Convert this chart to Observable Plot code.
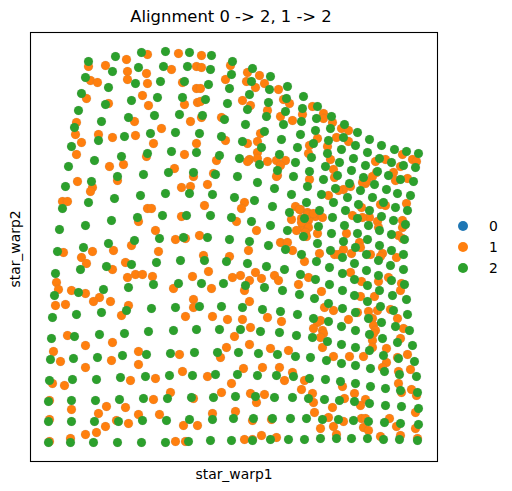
<!DOCTYPE html>
<html>
<head>
<meta charset="utf-8">
<script src="https://cdn.jsdelivr.net/npm/d3@7"></script>
<script src="https://cdn.jsdelivr.net/npm/@observablehq/plot@0.6"></script>
<style>
html,body{margin:0;padding:0;background:#fff;font-family:"DejaVu Sans",sans-serif;}
#wrap{position:relative;width:512px;height:491px;overflow:hidden;}
#wrap svg{display:block;}
#legend{position:absolute;left:458px;top:215px;}
.row{display:flex;align-items:center;height:21px;font-size:13.9px;color:#000;}
.swatch{width:10px;height:10px;border-radius:50%;margin-right:21px;}
</style>
</head>
<body>
<div id="wrap"><div id="legend"></div></div>
<script>
const categories = ["0", "1", "2"];
const palette = ["#1f77b4", "#ff7f0e", "#2ca02c"];
const titleText = "Alignment 0 -> 2, 1 -> 2";
const xLabel = "star_warp1";
const yLabel = "star_warp2";

const points0 = [];

const points1 = [[58,395],[75,396],[96,402],[117,407],[141,392],[97,390],[116,388],[60,381],[67,379],[97,382],[117,378],[56,363],[112,366],[78,358],[118,356],[46,339],[104,340],[131,333],[45,327],[68,327],[82,324],[105,326],[51,319],[123,318],[46,307],[116,305],[79,295],[93,297],
[148,408],[171,406],[200,396],[166,395],[171,394],[217,389],[229,386],[195,382],[216,380],[234,378],[152,379],[225,374],[166,373],[170,373],[248,372],[212,361],[154,357],[167,359],[170,360],[253,362],[259,358],[220,356],[237,351],[250,345],[262,341],[160,340],[171,344],[191,344],[230,328],[195,321],[166,318],[227,320],[217,318],[154,307],[227,309],[186,301],[219,302],[217,300],[237,300],[246,301],[255,301],[227,303],[250,296],[144,293],[183,288],[163,285],[247,286],[246,285],
[282,355],[293,348],[293,343],[272,347],[302,339],[311,333],[318,331],[287,323],[306,324],[318,320],[297,315],[279,316],[278,308],[300,302],[372,307],[345,300],[355,302],[382,302],[386,300],[303,292],[279,282],[346,289],[342,285],[304,284],[370,295],[363,289],[365,281],[377,283],[335,278],[313,272],[320,275],[298,266],[350,257],[355,256],[376,258],[331,254],[322,246],[339,244],[347,240],[270,252],[277,249],[285,245],[292,244],[278,241],[272,234],[278,234],[372,241],[372,234],[287,228],[316,228],[348,234],[332,244],[308,271],[332,279],[336,280],[277,247],[283,248],
[47,280],[87,281],[62,274],[60,270],[32,260],[37,260],[117,253],[121,253],[108,240],[125,231],[101,216],[83,211],[33,209],[62,210],[128,210],[51,204],[56,198],[95,199],[82,192],[97,184],[105,187],[112,187],[122,185],[26,179],[28,172],[41,171],[55,168],[69,164],[63,160],[80,160],[98,156],[25,156],[35,157],[91,146],
[151,274],[160,275],[177,277],[214,259],[174,256],[211,253],[265,255],[269,252],[151,245],[206,240],[261,242],[271,243],[226,231],[266,231],[275,229],[145,222],[155,223],[169,226],[250,219],[257,219],[262,211],[218,211],[173,206],[199,205],[274,200],[178,190],[162,185],[225,189],[244,186],[248,181],[202,184],[210,186],[219,181],[231,183],[278,184],[268,177],[143,173],[181,173],[214,171],[163,162],[163,154],[219,160],[155,145],[182,145],[197,142],[212,142],[237,144],[251,140],[271,239],
[276,225],[368,226],[372,223],[329,219],[330,214],[289,208],[313,212],[321,208],[304,207],[308,207],[352,208],[350,205],[340,207],[366,204],[320,189],[348,180],[331,180],[358,184],[371,178],[291,170],[370,171],[330,165],[344,165],[294,154],[303,151],[327,149],[338,150],[347,151],[360,152],[318,142],[367,143],[290,141],[287,139],[342,143],[343,136],[283,133],[292,131],[293,128],[290,124],[345,131],[373,133],[342,121],[343,128],[292,114],[370,123],[356,113],
[37,126],[55,116],[82,119],[23,110],[30,100],[55,94],[81,101],[108,110],[108,97],[22,78],[34,76],[100,81],[125,83],[19,61],[41,52],[123,62],[140,69],[76,55],[95,54],[68,48],[19,42],[86,41],[98,38],[108,47],[129,47],[75,35],[66,29],[55,27],[40,23],[19,20],
[220,134],[204,125],[219,117],[196,114],[190,104],[240,113],[258,111],[149,107],[213,93],[232,94],[249,94],[152,90],[177,85],[201,78],[262,89],[254,81],[274,81],[271,72],[191,69],[220,68],[234,67],[226,59],[163,63],[182,48],[205,50],[153,36],[167,36],[222,41],[241,42],[145,20],[155,20],[214,22],[222,22],[231,26],[246,24],
[303,105],[319,105],[333,105],[342,114],[356,99],[352,94],[367,104],[377,107],[380,92],[368,90],[312,75],[368,78],[282,68],[324,68],[381,72],[371,69],[386,66],[283,59],[314,63],[335,62],[330,56],[302,54],[284,49],[385,49],[298,44],[313,40],[359,43],[331,43],[335,43],[290,33],[303,35],[333,34],[338,31],[366,35],[385,33],[306,27],[350,25],[370,26],[387,23]];

const points2 = [[58,400],[85,405],[111,409],[135,410],[133,395],[108,394],[82,390],[55,384],[78,374],[105,378],[130,380],[51,368],[75,357],[101,361],[127,364],[48,351],[71,340],[98,344],[124,346],[44,334],[68,321],[94,325],[120,328],[41,315],[64,301],[91,305],[117,308],[141,310],[38,295],[87,285],[113,287],[138,289],
[159,409],[181,406],[202,400],[157,395],[180,392],[222,393],[201,387],[240,385],[154,380],[178,377],[221,380],[199,373],[257,375],[239,372],[152,364],[175,362],[219,367],[256,363],[197,358],[238,359],[217,352],[149,347],[255,350],[236,345],[172,346],[194,342],[215,337],[253,337],[145,329],[169,328],[234,330],[191,325],[212,320],[251,322],[231,314],[267,314],[166,309],[189,306],[249,307],[209,303],[265,299],[229,297],[247,291],[163,289],[185,287],[207,285],[263,285],
[273,365],[287,355],[272,353],[301,345],[286,343],[271,340],[314,337],[300,333],[327,329],[285,331],[270,327],[313,324],[339,322],[298,321],[325,316],[283,318],[351,316],[311,312],[337,309],[364,312],[376,310],[388,308],[297,308],[281,304],[349,303],[323,303],[309,299],[361,299],[373,296],[385,294],[335,296],[295,295],[321,291],[347,290],[279,290],[358,286],[333,284],[307,286],[370,282],[383,280],[293,282],[319,278],[344,277],[277,275],[356,272],[305,273],[330,271],[367,268],[291,267],[380,266],[342,264],[317,264],[276,259],[303,259],[353,259],[328,257],[365,254],[377,251],[289,251],[339,251],[315,251],[302,244],[327,243],[274,243],[351,245],[363,241],[375,237],[338,236],[288,235],[314,236],[301,228],[349,231],[327,228],[361,227],
[61,280],[35,275],[135,268],[110,266],[84,263],[58,259],[32,253],[132,246],[107,244],[81,241],[55,236],[29,232],[129,223],[104,221],[78,218],[53,214],[27,210],[126,199],[101,197],[76,195],[50,192],[25,188],[123,177],[98,174],[73,172],[48,169],[24,166],[121,153],[96,151],[71,149],[46,147],[22,144],
[227,279],[244,273],[159,268],[182,267],[204,264],[224,261],[261,267],[242,255],[259,249],[156,246],[180,246],[201,244],[221,240],[240,236],[257,231],[273,225],[153,224],[177,224],[199,222],[219,220],[238,216],[255,212],[271,207],[150,201],[174,201],[196,200],[217,198],[236,195],[254,192],[270,187],[148,178],[171,178],[193,178],[215,176],[234,174],[252,171],[269,167],[145,154],[169,155],[191,155],[212,154],[232,152],[250,150],[267,147],
[337,222],[374,222],[313,220],[287,218],[349,216],[325,214],[300,211],[361,211],[373,207],[336,207],[312,204],[348,201],[286,200],[324,198],[360,196],[299,194],[373,192],[336,191],[348,186],[312,188],[324,182],[285,182],[361,181],[337,176],[299,177],[374,177],[312,171],[349,171],[324,166],[362,166],[284,163],[376,162],[337,160],[298,158],[350,155],[312,153],[363,151],[325,149],[377,147],[283,143],[338,143],[298,140],[351,139],[311,135],[365,135],[325,131],[379,131],[282,124],[339,127],[352,123],[297,120],[367,119],[311,117],[382,116],[325,114],[339,111],
[21,123],[44,125],[69,127],[94,128],[118,130],[20,102],[43,103],[67,104],[92,106],[116,107],[140,108],[19,81],[42,82],[66,82],[90,84],[115,85],[139,86],[18,60],[41,61],[65,61],[89,62],[113,63],[137,63],[18,40],[41,40],[64,40],[88,40],[112,41],[136,41],[18,19],[40,19],[63,19],[87,19],[111,19],[135,19],
[143,131],[166,132],[189,132],[210,132],[230,130],[249,129],[266,126],[164,109],[187,109],[208,109],[228,108],[247,107],[265,105],[280,104],[162,86],[185,87],[207,87],[227,86],[246,86],[263,85],[279,83],[161,64],[183,64],[205,65],[225,65],[244,64],[262,64],[278,63],[159,42],[182,42],[203,43],[223,43],[242,43],[260,43],[276,43],[158,20],[180,21],[201,21],[222,21],[240,22],[258,22],[274,22],
[296,101],[311,98],[325,96],[353,106],[368,103],[384,100],[340,93],[354,90],[369,87],[386,85],[295,82],[310,80],[325,78],[340,75],[355,73],[370,71],[387,69],[294,62],[309,61],[324,60],[339,58],[355,56],[371,55],[388,53],[292,42],[308,42],[323,41],[338,40],[354,39],[370,38],[388,37],[290,23],[306,23],[321,23],[337,23],[353,22],[369,22],[387,21]];

const series = [points0, points1, points2];
const rows = series.flatMap((pts, i) => pts.map(([a, b]) => ({a, b, cat: categories[i]})));

const textStyle = {fontFamily: "DejaVu Sans", fill: "#000"};
const chart = Plot.plot({
  width: 512,
  height: 491,
  marginLeft: 30,
  marginRight: 75,
  marginTop: 32,
  marginBottom: 30,
  style: {background: "#fff", overflow: "visible"},
  x: {domain: [0, 407], axis: null},
  y: {domain: [0, 429], axis: null},
  color: {domain: categories, range: palette},
  marks: [
    Plot.dot(rows, {x: "a", y: "b", fill: "cat", r: 4.5, stroke: "#777", strokeOpacity: 0.25, strokeWidth: 0.5}),
    Plot.frame({stroke: "#000", strokeWidth: 1.1}),
    Plot.text([titleText], {text: d => d, frameAnchor: "top", dy: -22, dx: -3, fontSize: 16.4, ...textStyle}),
    Plot.text([xLabel], {text: d => d, frameAnchor: "bottom", dy: 17, fontSize: 13.9, ...textStyle}),
    Plot.text([yLabel], {text: d => d, frameAnchor: "left", textAnchor: "middle", dx: -15, dy: 2, rotate: -90, fontSize: 13.9, ...textStyle})
  ]
});
const wrap = document.getElementById("wrap");
wrap.insertBefore(chart, wrap.firstChild);

const legend = document.getElementById("legend");
categories.forEach((c, i) => {
  const row = document.createElement("div");
  row.className = "row";
  const sw = document.createElement("span");
  sw.className = "swatch";
  sw.style.background = palette[i];
  const label = document.createElement("span");
  label.textContent = c;
  row.append(sw, label);
  legend.append(row);
});
</script>
</body>
</html>
